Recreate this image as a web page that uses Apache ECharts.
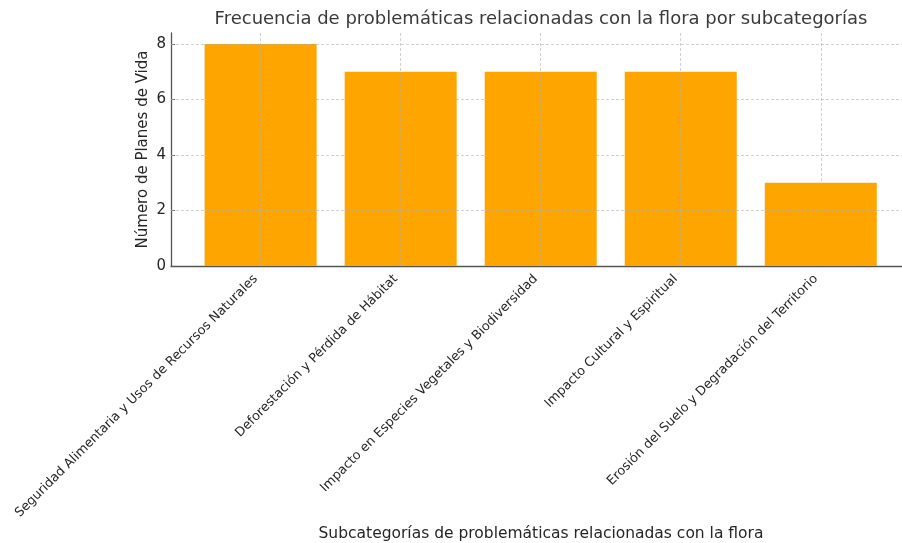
<!DOCTYPE html>
<html>
<head>
<meta charset="utf-8">
<script src="https://cdn.jsdelivr.net/npm/echarts@6/dist/echarts.min.js"></script>
<style>
  html, body { margin: 0; padding: 0; background: #fff; }
  #chart { width: 902px; height: 543px; }
</style>
</head>
<body>
<div id="chart"></div>
<script>
// datos de la figura
const categorias = [
  'Seguridad Alimentaria y Usos de Recursos Naturales',
  'Deforestación y Pérdida de Hábitat',
  'Impacto en Especies Vegetales y Biodiversidad',
  'Impacto Cultural y Espiritual',
  'Erosión del Suelo y Degradación del Territorio'
];
const planes = [8, 7, 7, 7, 3];
const yTicks = [0, 2, 4, 6, 8];
const xTicks = [0, 1, 2, 3, 4];

const font = 'DejaVu Sans';
const gridColor = 'rgba(176,176,176,0.75)';

const chart = echarts.init(document.getElementById('chart'));

const gridLines = yTicks.filter(v => v > 0).map(v => ({ yAxis: v }))
  .concat(xTicks.map(v => ({ xAxis: v })));

const option = {
  animation: false,
  backgroundColor: '#fff',
  textStyle: { fontFamily: font },
  title: {
    text: 'Frecuencia de problemáticas relacionadas con la flora por subcategorías',
    left: 536,
    textAlign: 'center',
    top: 5,
    textStyle: { fontFamily: font, fontSize: 18, fontWeight: 'normal', color: '#3a3a3a' }
  },
  // el eje derecho queda cortado por el borde de la imagen
  grid: { left: 171, right: 0, top: 33, height: 233 },
  xAxis: {
    type: 'value',
    min: -0.64,
    max: 4.58,
    name: 'Subcategorías de problemáticas relacionadas con la flora',
    nameLocation: 'middle',
    nameGap: 260,
    nameMoveOverlap: false,
    nameTextStyle: { fontFamily: font, fontSize: 15.5, color: '#262626', padding: [0, 0, 0, 9] },
    axisLine: { show: true, onZero: false, lineStyle: { color: '#555', width: 1.3 } },
    axisTick: { show: true, inside: true, length: 4, customValues: xTicks, lineStyle: { color: '#555' } },
    axisLabel: {
      customValues: xTicks,
      rotate: 45,
      margin: 6,
      padding: [0, 7, 0, 0],
      fontFamily: font,
      fontSize: 12.8,
      color: '#262626',
      formatter: v => categorias[v]
    },
    splitLine: { show: false }
  },
  yAxis: {
    type: 'value',
    min: 0,
    max: 8.4,
    name: 'Número de Planes de Vida',
    nameLocation: 'middle',
    nameGap: 20,
    nameMoveOverlap: false,
    nameTextStyle: { fontFamily: font, fontSize: 15, color: '#262626' },
    axisLine: { show: true, onZero: false, lineStyle: { color: '#555', width: 1.3 } },
    axisTick: { show: true, inside: true, length: 4, customValues: yTicks, lineStyle: { color: '#555' } },
    axisLabel: { customValues: yTicks, margin: 5, fontFamily: font, fontSize: 15, color: '#262626' },
    splitLine: { show: false }
  },
  series: [{
    type: 'bar',
    data: planes.map((v, i) => [i, v]),
    barWidth: 112,
    itemStyle: { color: '#ffa500' },
    markLine: {
      silent: true,
      symbol: 'none',
      label: { show: false },
      lineStyle: { color: gridColor, type: [3, 2], width: 0.8 },
      data: gridLines
    }
  }]
};

chart.setOption(option);
</script>
</body>
</html>
